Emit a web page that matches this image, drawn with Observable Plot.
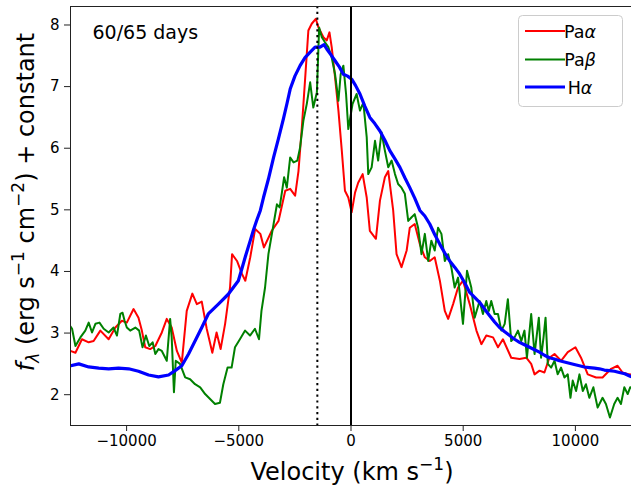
<!DOCTYPE html>
<html>
<head>
<meta charset="utf-8">
<script src="https://cdn.jsdelivr.net/npm/d3@7"></script>
<script src="https://cdn.jsdelivr.net/npm/@observablehq/plot@0.6"></script>
<style>
  html, body { margin: 0; padding: 0; background: white; }
  #chart { width: 631px; height: 487px; overflow: hidden; }
</style>
</head>
<body>
<div id="chart"></div>
<script>
// ---- Data (velocity in km/s, flux + constant) ----
const paAlphaV = [-12580,-12280,-11990,-11690,-11470,-11170,-10800,-10500,-10210,-9990,-9690,-9470,-9320,-9170,-8950,-8720,-8430,-8210,-7990,-7760,-7540,-7320,-7070,-6870,-6650,-6430,-6180,-5990,-5810,-5610,-5390,-5300,-5080,-4860,-4710,-4490,-4270,-4040,-3880,-3530,-3230,-2930,-2710,-2490,-2340,-2190,-2040,-1900,-1750,-1570,-1450,-1230,-1080,-960,-860,-710,-560,-410,-270,-120,30,180,320,520,700,840,1110,1290,1510,1660,1880,2030,2250,2480,2620,2840,3070,3290,3510,3730,3960,4180,4330,4550,4770,4990,5290,5590,5810,6030,6330,6550,6770,7140,7510,7810,8030,8180,8400,8620,8840,9070,9360,9660,10000,10250,10550,10920,11210,11590,11880,12100,12400,12600];
const paAlphaF = [2.72,2.68,2.90,2.85,2.87,3.04,2.90,3.09,3.20,3.17,3.39,3.25,3.04,2.77,2.74,2.79,3.01,3.23,3.09,2.71,2.52,3.36,3.64,3.47,3.51,3.07,2.68,3.01,2.74,3.15,3.74,4.28,4.17,3.96,3.85,4.23,4.69,4.61,4.39,4.66,4.82,5.31,5.34,5.23,5.63,6.34,7.15,7.91,8.02,8.10,7.96,7.80,7.75,7.88,7.64,7.15,6.61,5.96,5.31,5.20,4.96,5.28,5.44,5.58,5.20,4.66,4.53,5.15,5.53,5.63,4.99,4.28,4.07,4.34,4.71,4.77,4.44,4.23,4.17,4.23,3.85,3.36,3.23,3.47,3.74,3.85,3.47,3.04,2.82,2.96,2.93,2.77,2.90,2.60,2.58,2.60,2.50,2.33,2.39,2.36,2.60,2.66,2.55,2.69,2.77,2.60,2.33,2.28,2.28,2.42,2.47,2.36,2.33,2.32];

const paBetaV = [-12580,-12430,-12280,-12060,-11840,-11690,-11540,-11390,-11210,-11020,-10800,-10580,-10430,-10280,-10180,-10090,-9990,-9840,-9610,-9440,-9290,-9140,-8990,-8840,-8720,-8580,-8430,-8210,-8060,-7990,-7890,-7810,-7620,-7390,-7170,-6950,-6720,-6500,-6280,-6060,-5840,-5690,-5500,-5320,-5170,-4950,-4720,-4500,-4280,-4100,-3990,-3830,-3680,-3450,-3300,-3180,-3080,-2980,-2860,-2710,-2560,-2390,-2270,-2120,-1970,-1820,-1680,-1520,-1420,-1300,-1160,-1010,-860,-710,-560,-460,-340,-220,-120,70,250,400,550,700,770,920,1070,1210,1360,1510,1660,1810,1960,2100,2250,2400,2550,2700,2840,2990,3140,3290,3440,3580,3730,3880,4030,4180,4330,4470,4620,4770,4990,5170,5360,5510,5730,5880,6030,6140,6250,6400,6550,6700,6850,6990,7140,7290,7440,7590,7730,7840,8030,8180,8370,8470,8580,8670,8770,8920,9070,9210,9360,9510,9660,9780,9880,10030,10180,10330,10470,10620,10800,10990,11210,11360,11540,11730,11880,12030,12180,12330,12440,12600];
const paBetaF = [3.15,3.07,2.79,2.93,3.04,3.17,3.01,3.15,3.17,3.07,3.01,3.09,2.96,3.31,3.33,3.20,3.09,3.04,3.09,3.04,2.77,2.96,2.79,2.85,2.66,2.74,2.71,2.55,3.23,2.93,2.04,2.55,2.50,2.28,2.25,2.17,2.12,2.01,1.93,1.85,1.87,2.17,2.44,2.44,2.77,2.90,3.04,2.96,3.07,2.90,3.36,3.74,4.28,4.77,5.09,5.04,5.28,5.53,5.36,5.85,5.77,5.80,6.01,6.45,6.72,7.07,6.66,6.91,7.96,7.80,7.72,7.64,7.47,7.20,6.77,7.20,7.34,6.88,6.31,6.72,6.88,6.61,6.74,6.18,5.58,5.69,6.12,5.80,6.26,5.96,5.69,5.80,5.58,5.42,5.36,5.26,4.82,4.88,4.93,4.71,4.28,4.61,4.17,4.50,4.34,4.71,4.61,4.17,4.28,4.07,3.74,3.90,3.15,4.01,3.74,3.25,3.52,3.31,3.52,3.36,3.52,3.31,3.31,3.04,3.15,3.55,2.87,2.93,3.04,2.87,3.04,2.60,3.31,2.66,3.25,2.60,2.93,3.25,2.50,2.44,2.55,2.33,2.44,2.28,2.33,1.95,2.23,2.06,2.33,2.06,2.17,1.95,2.12,1.79,1.95,1.85,1.63,1.85,1.95,1.85,2.12,2.01,2.12,2.10];

const hAlphaV = [-12600,-12130,-11690,-11240,-10800,-10360,-9910,-9470,-9020,-8580,-8130,-7840,-7540,-7240,-6950,-6650,-6360,-5910,-5470,-5020,-4850,-4700,-4490,-4340,-4200,-4040,-3900,-3680,-3450,-3230,-3010,-2850,-2710,-2500,-2270,-2050,-1820,-1600,-1380,-1200,-1080,-900,-710,-520,-340,-150,30,200,400,620,840,1060,1290,1510,1730,1950,2180,2400,2620,2840,3070,3290,3510,3730,3960,4180,4400,4620,4840,5060,5290,5510,5730,5950,6180,6400,6620,6850,7070,7290,7510,7730,7960,8180,8400,8620,8840,9060,9290,9510,9730,9950,10180,10400,10620,10850,11070,11290,11510,11740,11960,12200,12440,12600];
const hAlphaF = [2.46,2.50,2.45,2.43,2.42,2.43,2.42,2.38,2.32,2.29,2.32,2.39,2.47,2.66,2.87,3.09,3.31,3.47,3.63,3.85,4.06,4.25,4.50,4.68,4.83,4.99,5.20,5.50,5.85,6.16,6.48,6.73,6.96,7.17,7.34,7.47,7.56,7.64,7.64,7.68,7.61,7.52,7.42,7.32,7.20,7.17,7.12,7.02,6.88,6.68,6.50,6.40,6.28,6.13,5.96,5.83,5.69,5.52,5.36,5.19,4.99,4.90,4.77,4.60,4.44,4.30,4.17,4.07,3.96,3.82,3.66,3.58,3.50,3.39,3.28,3.18,3.09,3.02,2.96,2.90,2.85,2.81,2.77,2.73,2.69,2.64,2.60,2.58,2.55,2.53,2.51,2.49,2.47,2.45,2.44,2.43,2.42,2.40,2.39,2.38,2.36,2.34,2.30,2.28];

const xTicks = [-10000, -5000, 0, 5000, 10000];
const yTicks = [2, 3, 4, 5, 6, 7, 8];
const refLines = [0];
const restLines = [-1500];
const epochLabel = ["60/65 days"];
const seriesNames = ["Paα", "Paβ", "Hα"];
const seriesColors = ["#ff0000", "#008000", "#0000ff"];

const toRows = (vs, fs) => vs.map((v, i) => ({v, f: fs[i]}));
const fmt = d => d < 0 ? "\u2212" + Math.abs(d) : String(d);

const chart = Plot.plot({
  width: 631,
  height: 487,
  marginLeft: 70,
  marginRight: 0,
  marginTop: 6,
  marginBottom: 62,
  style: {fontFamily: "DejaVu Sans, sans-serif", fontSize: "15px", background: "white", color: "black", overflow: "hidden"},
  x: {domain: [-12500, 12500]},
  y: {domain: [1.5, 8.3]},
  marks: [
    Plot.line(toRows(paAlphaV, paAlphaF), {x: "v", y: "f", stroke: seriesColors[0], strokeWidth: 2, strokeLinejoin: "round", clip: true}),
    Plot.line(toRows(paBetaV, paBetaF), {x: "v", y: "f", stroke: seriesColors[1], strokeWidth: 2, strokeLinejoin: "round", clip: true}),
    Plot.line(toRows(hAlphaV, hAlphaF), {x: "v", y: "f", stroke: seriesColors[2], strokeWidth: 3.2, strokeLinejoin: "round", clip: true}),
    Plot.ruleX(refLines, {stroke: "black", strokeWidth: 2}),
    Plot.ruleX(restLines, {stroke: "black", strokeWidth: 2, strokeDasharray: "2.2,3.6"}),
    Plot.frame({stroke: "#222", strokeWidth: 1}),
    Plot.axisX({ticks: xTicks, tickFormat: fmt, tickSize: 6, tickPadding: 4, fontSize: 15, label: null, stroke: "#222"}),
    Plot.axisY({ticks: yTicks, tickFormat: d => String(d), tickSize: 6, tickPadding: 5, fontSize: 15, label: null, stroke: "#222"}),
    Plot.text(epochLabel, {frameAnchor: "top-left", dx: 22, dy: 19, fontSize: 19, textAnchor: "start", lineAnchor: "top", fill: "black"})
  ]
});

document.getElementById("chart").appendChild(chart);

const svg = d3.select(chart);

// X axis label with superscript
const xl = svg.append("text")
  .attr("x", 352).attr("y", 480)
  .attr("text-anchor", "middle")
  .attr("font-size", 24)
  .attr("font-family", "DejaVu Sans, sans-serif")
  .attr("fill", "black");
xl.append("tspan").text("Velocity (km s");
xl.append("tspan").attr("font-size", 17).attr("dy", -10).text("\u22121");
xl.append("tspan").attr("dy", 10).text(")");

// Y axis label
const yl = svg.append("text")
  .attr("transform", "translate(34,202) rotate(-90)")
  .attr("text-anchor", "middle")
  .attr("font-size", 24)
  .attr("font-family", "DejaVu Sans, sans-serif")
  .attr("fill", "black");
yl.append("tspan").attr("font-style", "italic").text("f");
yl.append("tspan").attr("font-size", 17).attr("dy", 5).attr("font-style", "italic").text("λ");
yl.append("tspan").attr("dy", -5).text(" (erg s");
yl.append("tspan").attr("font-size", 17).attr("dy", -10).text("\u22121");
yl.append("tspan").attr("dy", 10).text(" cm");
yl.append("tspan").attr("font-size", 17).attr("dy", -10).text("\u22122");
yl.append("tspan").attr("dy", 10).text(") + constant");

// Legend
const lg = svg.append("g");
lg.append("rect")
  .attr("x", 518.5).attr("y", 15.5).attr("width", 104).attr("height", 91)
  .attr("rx", 4).attr("fill", "white").attr("fill-opacity", 0.85)
  .attr("stroke", "#cccccc").attr("stroke-width", 1);
const rowsY = [31, 59.5, 87];
seriesNames.forEach((name, i) => {
  lg.append("line")
    .attr("x1", 525).attr("x2", 565).attr("y1", rowsY[i]).attr("y2", rowsY[i])
    .attr("stroke", seriesColors[i]).attr("stroke-width", i === 2 ? 3.2 : 2);
  const t = lg.append("text")
    .attr("x", 580).attr("y", rowsY[i] + 6.5)
    .attr("font-size", 17.5)
    .attr("font-family", "DejaVu Sans, sans-serif")
    .attr("fill", "black");
  t.append("tspan").text(name.slice(0, name.length - 1));
  t.append("tspan").attr("font-style", "italic").text(name.slice(-1));
});
</script>
</body>
</html>
